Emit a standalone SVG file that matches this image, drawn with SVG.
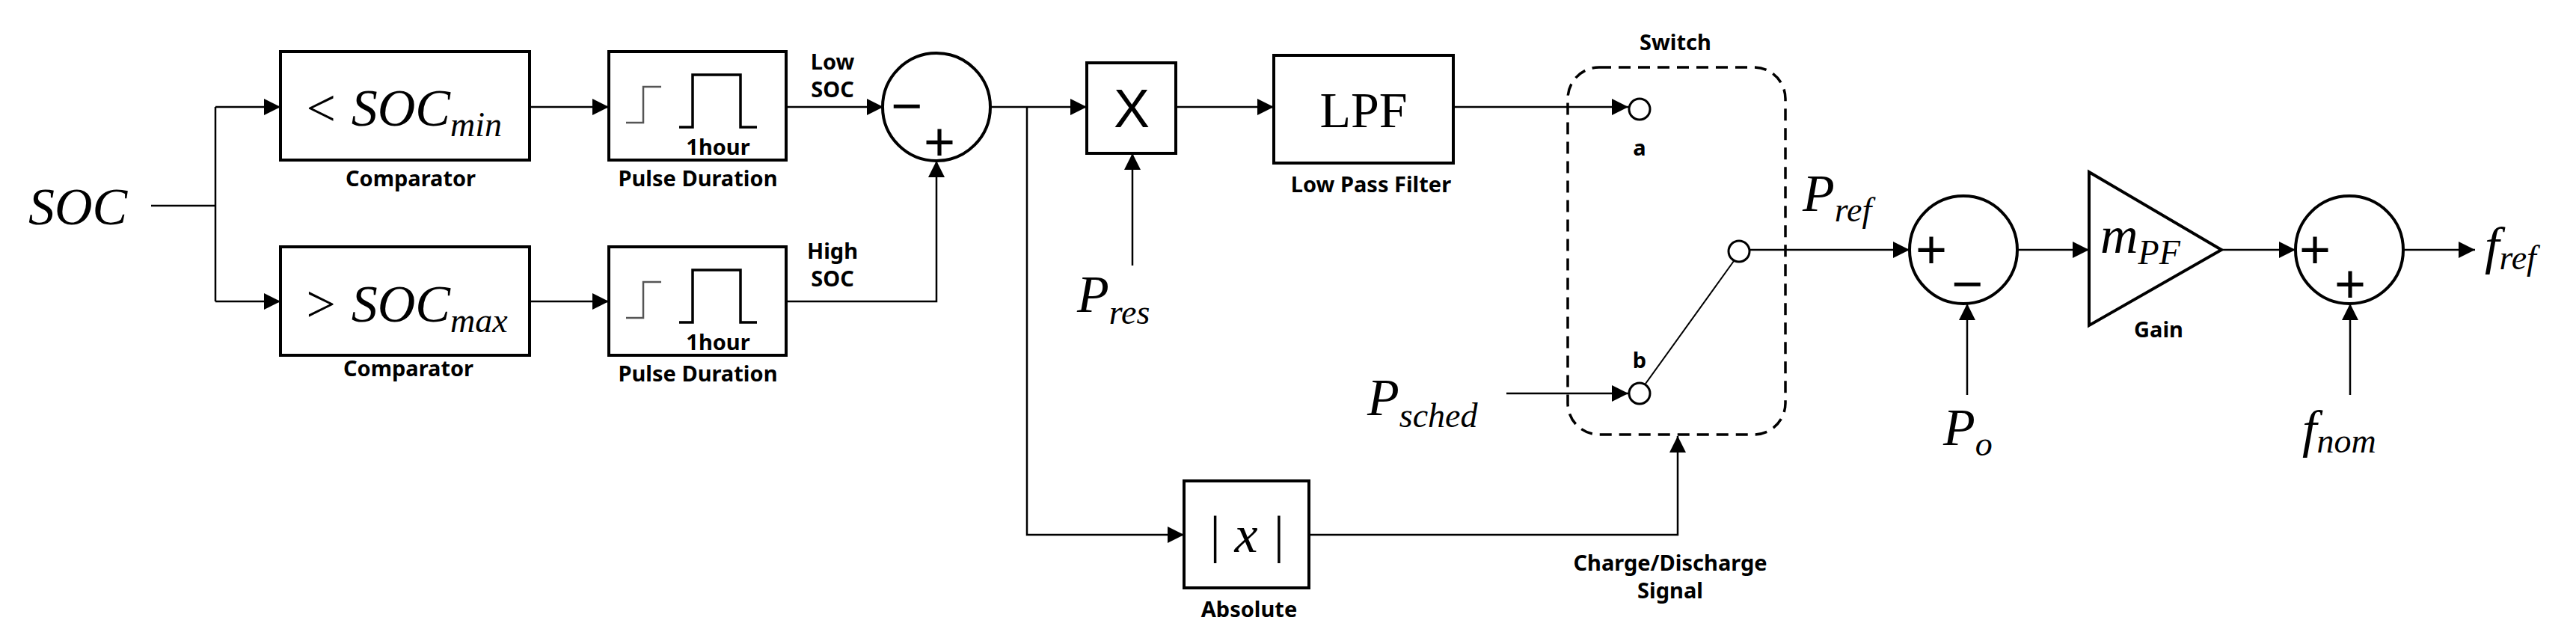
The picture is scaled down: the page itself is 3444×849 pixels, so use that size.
<svg xmlns="http://www.w3.org/2000/svg" width="3444" height="849" viewBox="0 0 3444 849">
<style>
.box{fill:#fff;stroke:#000;stroke-width:4}
.ln{fill:none;stroke:#000;stroke-width:2.5}
.ar{fill:none;stroke:#000;stroke-width:2.5;marker-end:url(#ahb)}
.lbl{font-family:"Noto Sans","Open Sans",sans-serif;font-weight:bold;font-size:29px;text-anchor:middle;fill:#000}
.m{font-family:"Liberation Serif",serif;font-style:italic;font-size:70px;fill:#000}
.sub{font-size:46px}
.sg{font-family:"Liberation Sans",sans-serif;font-size:72px;text-anchor:middle;fill:#000}
</style>
<defs>
<marker id="ahb" viewBox="0 0 10 10" refX="10" refY="5" markerWidth="22" markerHeight="22" orient="auto" markerUnits="userSpaceOnUse"><path d="M0,0L10,5L0,10z" fill="#000"/></marker>
</defs>

<g id="connectors">
<line class="ln" x1="202" y1="275" x2="288" y2="275"/>
<polyline class="ln" points="288,143 288,403"/>
<line class="ar" x1="288" y1="143" x2="375" y2="143"/>
<line class="ar" x1="288" y1="403" x2="375" y2="403"/>
<line class="ar" x1="708" y1="143" x2="814" y2="143"/>
<line class="ar" x1="708" y1="403" x2="814" y2="403"/>
<line class="ar" x1="1051" y1="143" x2="1181" y2="143"/>
<polyline class="ar" points="1051,403 1252,403 1252,215"/>
<line class="ar" x1="1323" y1="143" x2="1453" y2="143"/>
<polyline class="ar" points="1373,143 1373,715 1583,715"/>
<line class="ar" x1="1514" y1="355" x2="1514" y2="205"/>
<line class="ar" x1="1572" y1="143" x2="1703" y2="143"/>
<line class="ar" x1="1943" y1="143" x2="2177" y2="143"/>
<line class="ar" x1="2014" y1="526" x2="2177" y2="526"/>
<polyline class="ar" points="1750,715 2243,715 2243,583"/>
<line class="ar" x1="2340" y1="334" x2="2553" y2="334"/>
<line class="ar" x1="2630" y1="528" x2="2630" y2="406"/>
<line class="ar" x1="2697" y1="334" x2="2793" y2="334"/>
<line class="ar" x1="2970" y1="334" x2="3069" y2="334"/>
<line class="ar" x1="3142" y1="528" x2="3142" y2="406"/>
<line class="ar" x1="3213" y1="334" x2="3309" y2="334"/>
</g>

<g id="soc"><text class="m" x="38" y="300">SOC</text></g>

<g id="comp-min">
<rect class="box" x="375" y="69" width="333" height="145"/>
<text class="m" x="405" y="168">&lt; SOC<tspan class="sub" dy="14">min</tspan></text>
<text class="lbl" x="549" y="249">Comparator</text>
</g>
<g id="comp-max">
<rect class="box" x="375" y="330" width="333" height="145"/>
<text class="m" x="405" y="430">&gt; SOC<tspan class="sub" dy="14">max</tspan></text>
<text class="lbl" x="546" y="503">Comparator</text>
</g>

<g id="pulse-top">
<rect class="box" x="814" y="69" width="237" height="145"/>
<polyline fill="none" stroke="#555" stroke-width="2.5" points="837,164 860,164 860,116 884,116"/>
<line stroke="#555" stroke-width="1.5" x1="860" y1="145" x2="860" y2="128"/>
<polyline fill="none" stroke="#000" stroke-width="3.5" points="908,170 926,170 926,100 990,100 990,170 1012,170"/>
<text class="lbl" x="960" y="207">1hour</text>
<text class="lbl" x="933" y="249">Pulse Duration</text>
</g>
<g id="pulse-bot">
<rect class="box" x="814" y="330" width="237" height="145"/>
<polyline fill="none" stroke="#555" stroke-width="2.5" points="837,425 860,425 860,377 884,377"/>
<line stroke="#555" stroke-width="1.5" x1="860" y1="406" x2="860" y2="389"/>
<polyline fill="none" stroke="#000" stroke-width="3.5" points="908,431 926,431 926,361 990,361 990,431 1012,431"/>
<text class="lbl" x="960" y="468">1hour</text>
<text class="lbl" x="933" y="510">Pulse Duration</text>
</g>

<g id="lowsoc"><text class="lbl" x="1113" y="93">Low</text><text class="lbl" x="1113" y="130">SOC</text></g>
<g id="highsoc"><text class="lbl" x="1113" y="346">High</text><text class="lbl" x="1113" y="383">SOC</text></g>

<g id="sum1">
<circle cx="1252" cy="143" r="72" fill="#fff" stroke="#000" stroke-width="4"/>
<text class="sg" x="1212" y="166">−</text>
<text class="sg" x="1256" y="214">+</text>
</g>

<g id="mult">
<rect class="box" x="1453" y="84" width="119" height="121"/>
<text class="sg" x="1513" y="170" font-size="56">X</text>
</g>
<g id="pres"><text class="m" x="1440" y="417">P<tspan class="sub" dy="16">res</tspan></text></g>

<g id="lpf">
<rect class="box" x="1703" y="74" width="240" height="144"/>
<text x="1823" y="170" font-family="Liberation Serif,serif" font-size="68" text-anchor="middle">LPF</text>
<text class="lbl" x="1833" y="257">Low Pass Filter</text>
</g>

<g id="abs">
<rect class="box" x="1583" y="643" width="167" height="143"/>
<text class="m" x="1666" y="738" text-anchor="middle">| x |</text>
<text class="lbl" x="1670" y="825">Absolute</text>
</g>

<g id="switch">
<rect x="2096" y="90" width="291" height="491" rx="42" fill="none" stroke="#000" stroke-width="3.5" stroke-dasharray="16,10"/>
<text class="lbl" x="2240" y="67">Switch</text>
<circle cx="2192" cy="146" r="14" fill="#fff" stroke="#000" stroke-width="3"/>
<text class="lbl" x="2192" y="208" font-size="36">a</text>
<circle cx="2192" cy="526" r="14" fill="#fff" stroke="#000" stroke-width="3"/>
<text class="lbl" x="2192" y="492" font-size="36">b</text>
<circle cx="2325" cy="336" r="14" fill="#fff" stroke="#000" stroke-width="3"/>
<line x1="2200" y1="513" x2="2318" y2="349" stroke="#000" stroke-width="2"/>
</g>
<g id="psched"><text class="m" x="1828" y="555">P<tspan class="sub" dy="16">sched</tspan></text></g>
<g id="cd"><text class="lbl" x="2233" y="763">Charge/Discharge</text><text class="lbl" x="2233" y="800">Signal</text></g>
<g id="pref"><text class="m" x="2410" y="282">P<tspan class="sub" dy="14">ref</tspan></text></g>

<g id="sum2">
<circle cx="2625" cy="334" r="72" fill="#fff" stroke="#000" stroke-width="4"/>
<text class="sg" x="2582" y="358">+</text>
<text class="sg" x="2630" y="404">−</text>
</g>
<g id="po"><text class="m" x="2598" y="595">P<tspan class="sub" dy="14">o</tspan></text></g>

<g id="gain">
<polygon points="2793,230 2970,334 2793,435" fill="#fff" stroke="#000" stroke-width="4"/>
<text class="m" x="2808" y="338">m<tspan class="sub" dy="15">PF</tspan></text>
<text class="lbl" x="2886" y="451">Gain</text>
</g>

<g id="sum3">
<circle cx="3141" cy="334" r="72" fill="#fff" stroke="#000" stroke-width="4"/>
<text class="sg" x="3095" y="358">+</text>
<text class="sg" x="3142" y="404">+</text>
</g>
<g id="fnom"><text class="m" x="3078" y="597">f<tspan class="sub" dy="8">nom</tspan></text></g>
<g id="fref"><text class="m" x="3322" y="352">f<tspan class="sub" dy="8">ref</tspan></text></g>
</svg>
